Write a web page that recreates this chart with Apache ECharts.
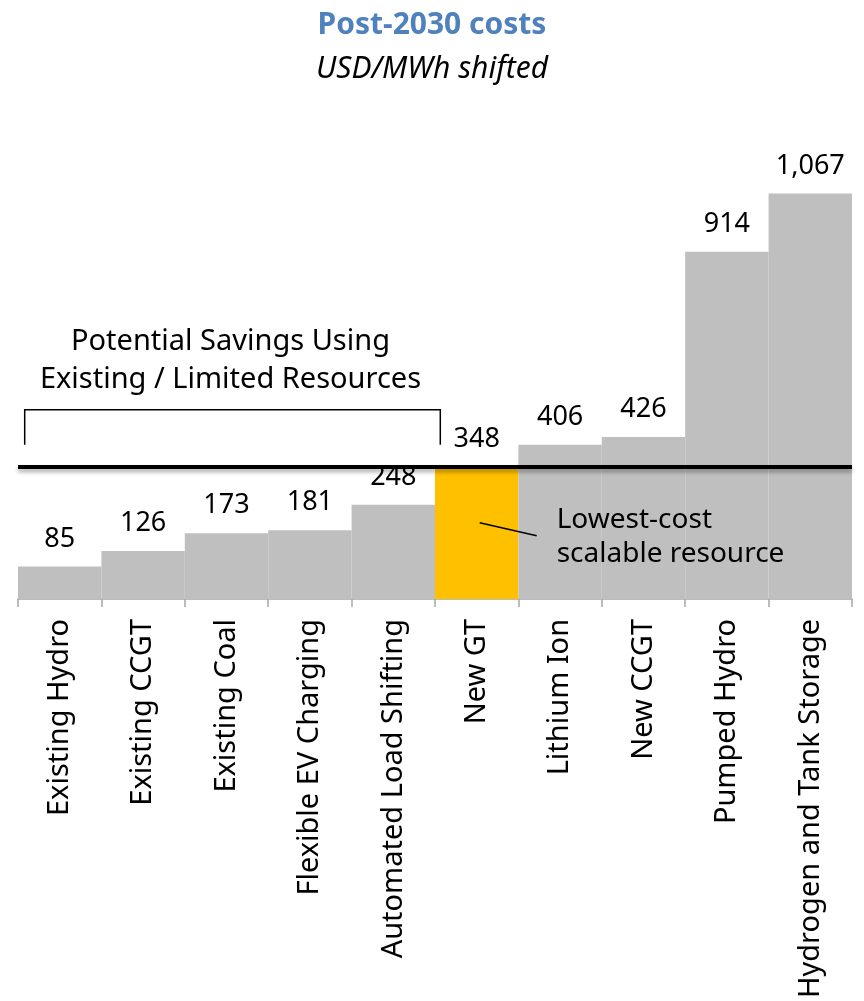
<!DOCTYPE html>
<html>
<head>
<meta charset="utf-8">
<script src="https://cdn.jsdelivr.net/npm/echarts@6/dist/echarts.min.js"></script>
<style>
  html, body { margin: 0; padding: 0; background: #fff; }
  #main { width: 864px; height: 1001px; }
</style>
</head>
<body>
<div id="main"></div>
<script>
var categories = ['Existing Hydro', 'Existing CCGT', 'Existing Coal', 'Flexible EV Charging',
  'Automated Load Shifting', 'New GT', 'Lithium Ion', 'New CCGT', 'Pumped Hydro',
  'Hydrogen and Tank Storage'];
var costs = [85, 126, 173, 181, 248, 348, 406, 426, 914, 1067];
var highlightIndex = 5;
var thresholdValue = 348;

var font = '"Noto Sans", sans-serif';
var chart = echarts.init(document.getElementById('main'));

var barData = costs.map(function (v, i) {
  return {
    value: v,
    itemStyle: { color: i == highlightIndex ? '#ffc000' : '#bfbfbf' }
  };
});

var option = {
  backgroundColor: '#ffffff',
  animation: false,
  title: {
    text: 'Post-2030 costs',
    subtext: 'USD/MWh shifted',
    left: 'center',
    top: 5,
    itemGap: 14,
    textStyle: { color: '#4f81bd', fontSize: 30, fontWeight: 'bold', fontFamily: font },
    subtextStyle: { color: '#000', fontSize: 30, fontStyle: 'italic', fontFamily: font }
  },
  grid: { left: 18, right: 12, top: 143, bottom: 401 },
  xAxis: {
    type: 'category',
    data: categories,
    axisLine: { lineStyle: { color: '#a6a6a6', width: 1.5 } },
    axisTick: { show: true, length: 8, lineStyle: { color: '#a6a6a6', width: 1.5 } },
    axisLabel: {
      interval: 0, rotate: 90, margin: 20,
      color: '#000', fontSize: 29, fontFamily: font
    }
  },
  yAxis: {
    type: 'value', min: 0, max: 1200, show: false,
    splitLine: { show: false }
  },
  series: [{
    type: 'bar',
    data: barData,
    barCategoryGap: '0%',
    label: {
      show: true, position: 'top', distance: 14,
      color: '#000', fontSize: 27, fontFamily: font,
      formatter: function (p) { return p.value.toLocaleString('en-US'); }
    },
    markLine: {
      silent: true, symbol: 'none', z: 10,
      label: { show: false },
      lineStyle: {
        color: '#000', width: 4, type: 'solid',
        shadowColor: 'rgba(0,0,0,0.35)', shadowBlur: 4, shadowOffsetY: 3
      },
      data: [{ yAxis: thresholdValue }]
    }
  }]
};
chart.setOption(option);

// annotations positioned from the axis scales
var yLine = chart.convertToPixel({ yAxisIndex: 0 }, thresholdValue);
var xLeft = chart.convertToPixel({ xAxisIndex: 0 }, 0) - 35;
var xRight = chart.convertToPixel({ xAxisIndex: 0 }, 4) + 47;
var bracketTop = yLine - 57;
var gtCenter = chart.convertToPixel({ xAxisIndex: 0 }, highlightIndex);

chart.setOption({
  graphic: [
    {
      type: 'polyline', z: 100,
      shape: { points: [[xLeft, bracketTop + 35], [xLeft, bracketTop], [xRight, bracketTop], [xRight, bracketTop + 35]] },
      style: { stroke: '#000', lineWidth: 1.5, fill: null }
    },
    {
      type: 'text', z: 100,
      x: (xLeft + xRight) / 2 - 2, y: bracketTop - 11,
      style: {
        text: 'Potential Savings Using\nExisting / Limited Resources',
        fill: '#000', font: '29px ' + font, align: 'center', verticalAlign: 'bottom', lineHeight: 38
      }
    },
    {
      type: 'line', z: 100,
      shape: { x1: gtCenter + 3, y1: yLine + 56, x2: gtCenter + 60, y2: yLine + 69 },
      style: { stroke: '#000', lineWidth: 1.5 }
    },
    {
      type: 'text', z: 100,
      x: gtCenter + 80, y: yLine + 36,
      style: {
        text: 'Lowest-cost\nscalable resource',
        fill: '#000', font: '28px ' + font, align: 'left', verticalAlign: 'top', lineHeight: 34
      }
    }
  ]
});
</script>
</body>
</html>
